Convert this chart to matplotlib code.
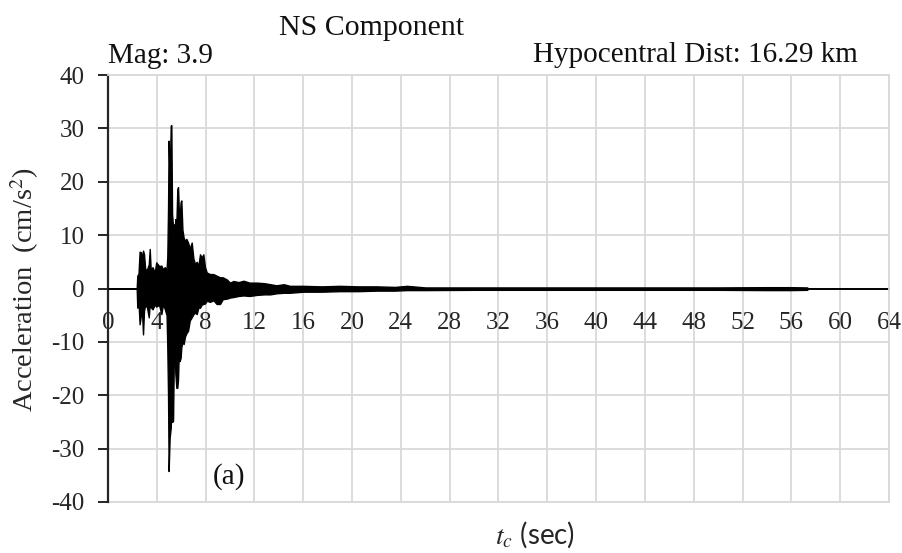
import matplotlib
matplotlib.use("Agg")
import matplotlib.pyplot as plt

# Envelope of the NS acceleration record: time (s), upper and lower peaks (cm/s^2)
t_env = [0.00, 2.35, 2.40, 2.50, 2.59, 2.70, 2.78, 2.87, 2.95, 3.05, 3.20, 3.34,
         3.42, 3.50, 3.65, 3.83, 3.95, 4.05, 4.20, 4.37, 4.50, 4.65, 4.80, 4.86,
         4.92, 4.97, 5.05, 5.14, 5.19, 5.25, 5.33, 5.40, 5.46, 5.52, 5.60, 5.68,
         5.74, 5.80, 5.87, 5.95, 6.01, 6.10, 6.20, 6.31, 6.42, 6.56, 6.70, 6.86,
         7.00, 7.13, 7.27, 7.40, 7.54, 7.68, 7.81, 7.95, 8.09, 8.36, 8.63, 8.90,
         9.18, 9.40, 9.73, 10.00, 10.27, 10.70, 11.10, 11.60, 12.20, 12.80, 13.30,
         13.80, 14.40, 14.90, 16.00, 17.50, 19.00, 20.50, 22.00, 23.50, 24.50,
         26.00, 30.00, 35.00, 40.00, 45.00, 50.00, 54.00, 56.00, 57.30, 57.35]
acc_max = [0.0, 0.0, 2.4, 2.8, 6.9, 6.8, 5.5, 7.1, 6.5, 3.6, 3.6, 4.5,
           7.4, 3.5, 4.0, 3.0, 4.9, 4.6, 4.2, 4.3, 3.6, 4.0, 3.6, 6.0,
           15.0, 27.7, 20.0, 30.5, 30.6, 14.0, 11.6, 12.0, 11.0, 13.0, 12.0, 18.6,
           19.0, 14.9, 13.0, 16.2, 16.5, 11.0, 9.5, 8.9, 9.3, 8.6, 7.5, 8.6,
           5.6, 4.6, 5.0, 4.2, 6.4, 5.8, 6.4, 4.0, 3.0, 2.7, 2.7, 2.4,
           2.1, 2.1, 1.7, 1.1, 1.4, 1.2, 1.45, 1.1, 1.1, 1.0, 0.8,
           0.6, 0.8, 0.5, 0.5, 0.4, 0.5, 0.4, 0.4, 0.3, 0.5,
           0.2, 0.2, 0.2, 0.2, 0.2, 0.2, 0.25, 0.25, 0.2, 0.0]
acc_min = [0.0, 0.0, -3.6, -2.5, -6.7, -5.0, -4.0, -8.6, -4.2, -3.0, -3.6, -5.4,
           -3.0, -3.5, -3.9, -3.0, -3.4, -3.2, -3.2, -4.8, -3.0, -3.8, -5.0, -11.1,
           -20.0, -34.2, -28.0, -26.1, -22.0, -25.0, -24.8, -12.0, -11.1, -16.0, -18.6, -18.6,
           -17.0, -12.0, -13.6, -13.0, -11.0, -10.0, -10.4, -9.0, -8.4, -7.9, -6.0, -5.4,
           -4.8, -4.5, -4.8, -3.6, -3.6, -3.0, -2.9, -2.8, -2.3, -2.5, -2.2, -2.9,
           -2.9, -2.0, -1.9, -1.7, -1.6, -1.4, -1.3, -1.4, -1.2, -1.1, -1.1,
           -0.9, -0.8, -0.8, -0.6, -0.6, -0.5, -0.5, -0.4, -0.4, -0.3,
           -0.3, -0.25, -0.25, -0.25, -0.25, -0.25, -0.3, -0.3, -0.25, 0.0]

x_ticks = list(range(0, 65, 4))
y_ticks = list(range(-40, 41, 10))

plt.rcParams["font.family"] = ["Liberation Serif", "DejaVu Serif"]
plt.rcParams["mathtext.fontset"] = "stix"
plt.rcParams["axes.unicode_minus"] = False

W, H = 903, 553
fig = plt.figure(figsize=(W / 100, H / 100), dpi=100)
ax = fig.add_axes([108 / W, 1 - 502 / H, (889 - 108) / W, (502 - 75) / H])

grid_c = "#d9d9d9"
ax.set_xlim(0, 64)
ax.set_ylim(-40, 40)
ax.set_xticks(x_ticks)
ax.set_yticks(y_ticks)
ax.grid(True, color=grid_c, linewidth=1.3, zorder=0)
ax.set_axisbelow(True)

# waveform
ax.fill_between(t_env, acc_min, acc_max, color="black", linewidth=1.0,
                edgecolor="black", zorder=3)

# spines: left black, horizontal axis through zero, frame edges as grid
ax.spines["left"].set_color("#262626")
ax.spines["left"].set_linewidth(1.6)
ax.spines["bottom"].set_position(("data", 0))
ax.spines["bottom"].set_color("black")
ax.spines["bottom"].set_linewidth(1.4)
ax.spines["bottom"].set_zorder(2)
for s in ("top", "right"):
    ax.spines[s].set_color(grid_c)
    ax.spines[s].set_linewidth(1.3)
ax.axhline(-40, color=grid_c, linewidth=1.3, clip_on=False, zorder=0)

ax.tick_params(axis="y", direction="out", length=7, width=1.4, color="#262626",
               labelsize=18, labelcolor="#262626", pad=10)
ax.tick_params(axis="x", length=0, labelsize=18, labelcolor="#262626", pad=17)

ax.set_ylabel("Acceleration  (cm/s$^2$)", fontsize=20.5, color="#262626")
ax.yaxis.set_label_coords(-(108 - 41) / (889 - 108), (502 - 290) / (502 - 75))

ax.set_xlabel(r"$t_c$ (sec)", fontsize=20, color="#262626",
              family=["Lato", "DejaVu Sans"])
ax.xaxis.set_label_coords((535 - 108) / (889 - 108), -(519 - 502) / (502 - 75))

fig.text(372 / W, 1 - 35 / H, "NS Component", ha="center", va="baseline",
         fontsize=21.5, color="#111111")
fig.text(108 / W, 1 - 63 / H, "Mag: 3.9", ha="left", va="baseline",
         fontsize=21, color="#111111")
fig.text(858 / W, 1 - 62 / H, "Hypocentral Dist: 16.29 km", ha="right",
         va="baseline", fontsize=21, color="#111111")
ax.text(8.6, -36.6, "(a)", ha="left", va="baseline", fontsize=21,
        color="#111111")

fig.savefig("out.png", dpi=100)
